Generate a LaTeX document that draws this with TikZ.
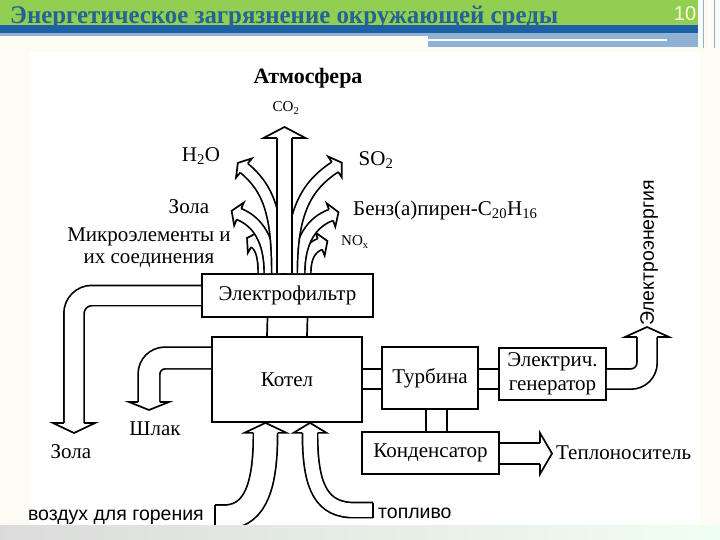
\documentclass[tikz,border=0pt]{standalone}
\usepackage{graphicx}
\usepackage{fontspec}
\setmainfont{Liberation Serif}
\setsansfont{Liberation Sans}

\definecolor{hdgreen}{RGB}{146,206,82}
\definecolor{hdblue}{RGB}{30,96,166}
\definecolor{hdlight}{RGB}{143,178,212}
\definecolor{hdtitle}{RGB}{36,100,148}
\definecolor{slidebg}{RGB}{252,252,245}

\tikzset{
  blk/.style={draw, line width=1.7pt, fill=white, inner sep=0pt, align=center,
    font=\fontsize{21}{24}\selectfont},
  lbl/.style={inner sep=0pt, font=\fontsize{21}{24}\selectfont},
  slbl/.style={inner sep=0pt, font=\sffamily\fontsize{19.5}{22}\selectfont},
  pipe/.style={line width=1.7pt},
  band/.style={draw=black, line width=1.7pt, double=white, double distance=#1}
}
% hollow head of a block arrow: point, angle, shaft gap, head width, head length
\newcommand\blkhead[5]{%
  \draw[line width=1.7pt, fill=white, shift={(#1)}, rotate=#2]
    (0,{(#3+1.7)/2}) -- (0,{#4/2}) -- (#5,0) -- (0,{-#4/2}) -- (0,{-(#3+1.7)/2});}

\begin{document}
\begin{tikzpicture}[x=1pt,y=-1pt]
  \useasboundingbox (0,0) rectangle (720,540);
  % slide
  \fill[slidebg] (0,0) rectangle (720,540);
  \fill[white] (30,52) rectangle (700,525);
  \fill[hdgreen] (0,0) rectangle (698,25);
  \fill[hdblue] (0,25) rectangle (698,33);
  \fill[hdlight] (0,33) rectangle (428,36);
  \fill[hdlight] (428,33) rectangle (698,47);
  \draw[white, line width=1.5pt] (428,40) -- (667,40);
  \foreach \xv/\cl in {700/white, 703/hdlight, 709/white, 714/hdlight}
    \draw[\cl, line width=1pt] (\xv,0) -- (\xv,48);
  \node[anchor=base west, inner sep=0pt, text=hdtitle] (title) at (10,23.5) {\resizebox{548pt}{17.5pt}{\bfseries\fontsize{26}{28}\selectfont Энергетическое загрязнение окружающей среды}};
  \node[inner sep=0pt, text=white!85!yellow, font=\sffamily\fontsize{20}{22}\selectfont] (pnum) at (685,14) {10};

  % blocks
  \node[blk, minimum width=171pt, minimum height=43pt] (filt) at (287.5,295.5) {Электрофильтр};
  \node[blk, minimum width=150pt, minimum height=85pt] (boil) at (287,379.5) {Котел};
  \node[blk, minimum width=96pt, minimum height=62pt] (turb) at (430,378) {Турбина};
  \node[blk, minimum width=107pt, minimum height=52pt] (gen) at (552.5,374) {Электрич.\\генератор};
  \node[blk, minimum width=137pt, minimum height=42pt] (cond) at (430.5,453) {Конденсатор};

  \draw[pipe] ([xshift=-20pt]filt.south) -- ([xshift=-20pt]boil.north);
  \draw[pipe] ([xshift=20pt]filt.south) -- ([xshift=20pt]boil.north);
  \draw[pipe] (boil.east |- 0,369) -- (turb.west |- 0,369);
  \draw[pipe] (boil.east |- 0,389) -- (turb.west |- 0,389);
  \draw[pipe] (turb.east |- 0,369) -- (gen.west |- 0,369);
  \draw[pipe] (turb.east |- 0,389) -- (gen.west |- 0,389);
  \draw[pipe] (turb.south -| 426,0) -- (cond.north -| 426,0);
  \draw[pipe] (turb.south -| 447,0) -- (cond.north -| 447,0);

  % emissions
  \coordinate (micro-end) at (254,242);
  \coordinate (nox-end) at (320,244);
  \coordinate (zola-end) at (239,214);
  \coordinate (benz-end) at (331,215);
  \coordinate (h2o-end) at (244,168);
  \coordinate (so2-end) at (335,167);
  \coordinate (co2-end) at (284.5,138);
  \draw[band=10] ([xshift=-23.5pt]filt.north) .. controls (264,256) and (261,246) .. (micro-end);
  \blkhead{micro-end}{150.3}{10}{25}{8}
  \draw[band=10] ([xshift=17.5pt]filt.north) .. controls (305,257) and (310,248) .. (nox-end);
  \blkhead{nox-end}{21.8}{10}{25}{8}
  \draw[band=10] ([xshift=-17.5pt]filt.north) .. controls (270,240) and (258,222) .. (zola-end);
  \blkhead{zola-end}{157.2}{10}{25}{8}
  \draw[band=10] ([xshift=11.5pt]filt.north) .. controls (299,240) and (312,222) .. (benz-end);
  \blkhead{benz-end}{20.2}{10}{25}{8}
  \draw[band=10] ([xshift=-10pt]filt.north) .. controls (277.5,212) and (268,188) .. (h2o-end);
  \blkhead{h2o-end}{140.2}{10}{25}{8}
  \draw[band=10] ([xshift=4pt]filt.north) .. controls (291.5,212) and (306,186) .. (so2-end);
  \blkhead{so2-end}{33.2}{10}{25}{8}
  \draw[band=13] ([xshift=-3pt]filt.north) -- (co2-end);
  \blkhead{co2-end}{90}{13}{42}{11}

  % outputs
  \coordinate (ash-end) at (74,423);
  \coordinate (slag-end) at (149,402);
  \coordinate (elec-end) at (647,337);
  \coordinate (heat-end) at (540,453.5);
  \draw[band=18.5, rounded corners=18] (filt.west) -- (74,295.5) -- (ash-end);
  \blkhead{ash-end}{-90}{18.5}{42}{10}
  \draw[band=20, rounded corners=16] (boil.west |- 0,358) -- (149,358) -- (slag-end);
  \blkhead{slag-end}{-90}{20}{40}{8}
  \draw[band=18.5, rounded corners=16] (gen.east |- 0,379) -- (647,379) -- (elec-end);
  \blkhead{elec-end}{90}{18.5}{44}{10}
  \draw[band=19.5] (cond.east |- 0,453.5) -- (heat-end);
  \blkhead{heat-end}{0}{19.5}{41}{12}

  % inputs
  \coordinate (air-tail) at (215,517);
  \coordinate (air-end) at ([xshift=-21.5pt,yshift=-10pt]boil.south);
  \coordinate (fuel-tail) at (373,510);
  \coordinate (fuel-end) at ([xshift=23pt,yshift=-10pt]boil.south);
  \draw[band=22.5] (air-tail) -- (228,517) .. controls (256,514) and (265.5,485) .. (air-end);
  \blkhead{air-end}{90}{22.5}{42}{10}
  \draw[pipe] (215,504.5) -- (215,529.5);
  \draw[band=13.5] (fuel-tail) -- (350,510) .. controls (318,508) and (310,480) .. (fuel-end);
  \blkhead{fuel-end}{90}{13.5}{33}{10}
  \draw[pipe] (373,502.5) -- (373,517.5);
  \shade[left color=black!14, right color=green!6] (0,525) rectangle (720,540);

  % labels
  \node[lbl, font=\bfseries\fontsize{22}{24}\selectfont] (atm) at (308,78) {Атмосфера};
  \node[lbl, font=\fontsize{15}{17}\selectfont] (co2) at (286,108) {CO\textsubscript{2}};
  \node[lbl] (h2o) at (201,156) {H\textsubscript{2}O};
  \node[lbl] (zola1) at (189,207) {Зола};
  \node[lbl] (micro) at (149,237) {Микроэлементы и};
  \node[lbl] (soed) at (149,261) {их соединения};
  \node[lbl] (so2) at (376,160) {SO\textsubscript{2}};
  \node[lbl, anchor=west] (benz) at (353,210) {Бенз(а)пирен-C\textsubscript{20}H\textsubscript{16}};
  \node[lbl, anchor=west, font=\fontsize{15}{17}\selectfont] (nox) at (341,242) {NO\textsubscript{x}};
  \node[lbl] (zola2) at (71,452) {Зола};
  \node[lbl] (slag) at (155,429) {Шлак};
  \node[lbl, anchor=west] (heat) at (556,453) {Теплоноситель};
  \node[slbl, rotate=90, anchor=west] (elec) at (649,326) {Электроэнергия};
  \node[slbl, anchor=east] (air) at (204,517) {воздух для горения};
  \node[slbl, anchor=west] (fuel) at (378,513) {топливо};
\end{tikzpicture}
\end{document}
